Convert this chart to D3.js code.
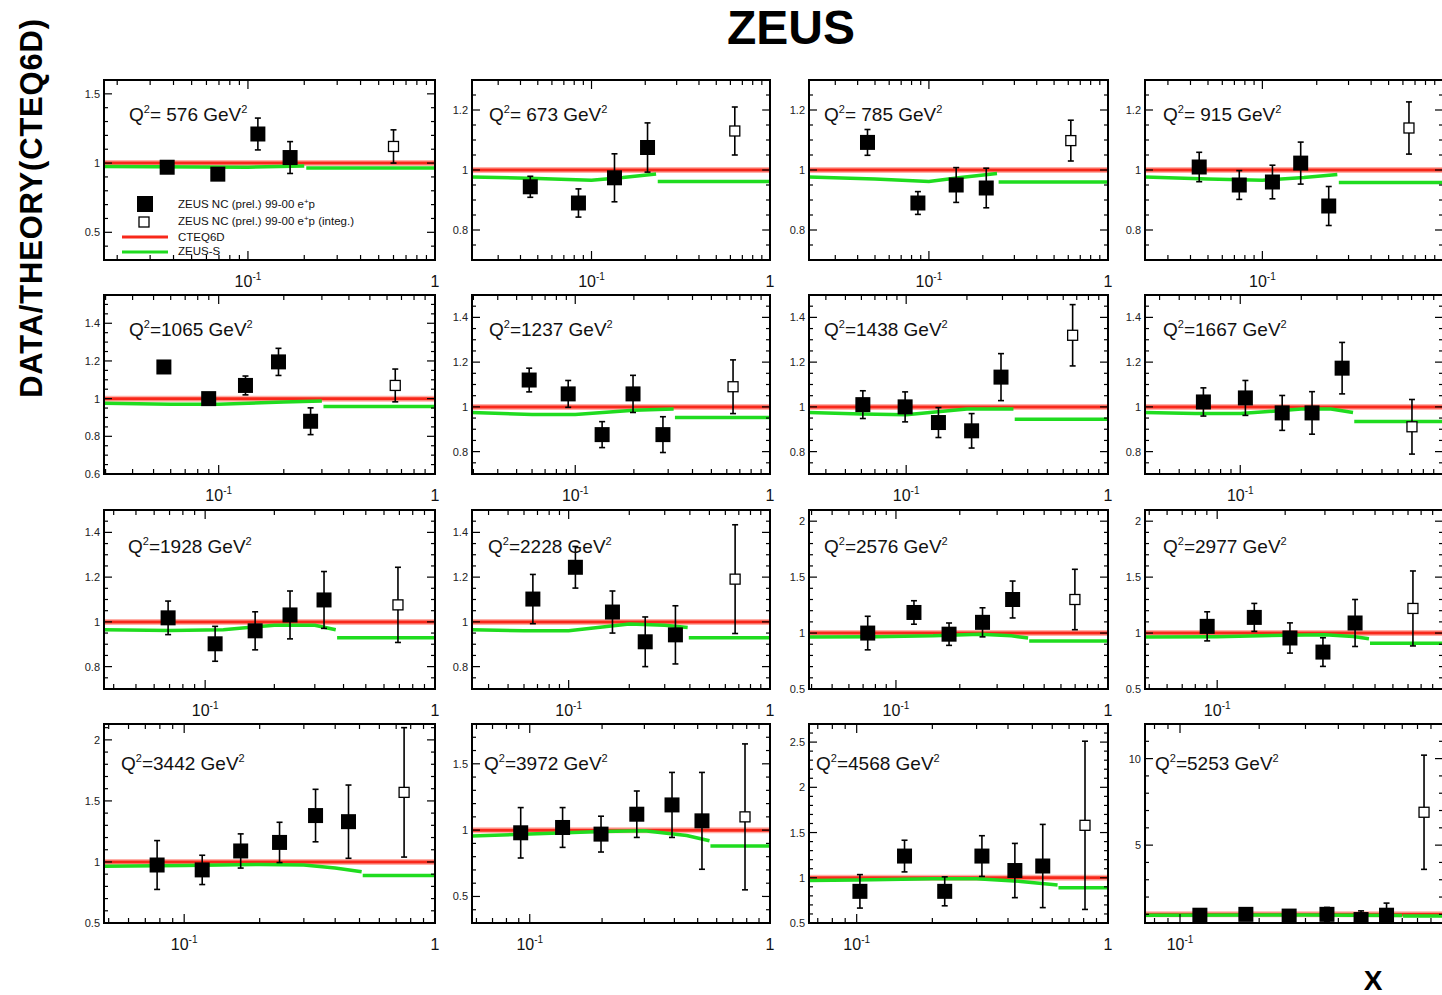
<!DOCTYPE html>
<html><head><meta charset="utf-8">
<script src="https://cdn.jsdelivr.net/npm/d3@7"></script>
<style>
body{margin:0;background:#fff}
svg{display:block}
text{font-family:"Liberation Sans",Arial,Helvetica,sans-serif}
</style>
</head><body>
<svg id="c" width="1442" height="995"></svg>
<script>
// ---------- data ----------
const q2Values = [576,673,785,915,1065,1237,1438,1667,1928,2228,2576,2977,3442,3972,4568,5253];
const xLow  = [0.017,0.0214,0.0214,0.0224,0.0295,0.0295,0.033,0.0339,0.0363,0.0331,0.0389,0.0479,0.0479,0.0575,0.0646,0.0736];
const xHigh = 1;
const yLow  = [0.3,0.7,0.7,0.7,0.6,0.7,0.7,0.7,0.7,0.7,0.5,0.5,0.5,0.3,0.5,0.5];
const yHigh = [1.6,1.3,1.3,1.3,1.55,1.5,1.5,1.5,1.5,1.5,2.1,2.1,2.13,1.8,2.7,12];
const yMajorStep = [0.5,0.2,0.2,0.2,0.2,0.2,0.2,0.2,0.2,0.2,0.5,0.5,0.5,0.5,0.5,5];
const yMinorStep = [0.1,0.05,0.05,0.05,0.05,0.05,0.05,0.05,0.05,0.05,0.1,0.1,0.1,0.1,0.1,1];
const xMajorTicks = [0.01,0.1,1];

const pointX = [
 [0.037,0.069,0.113,0.168],
 [0.0454,0.0845,0.1345,0.206],
 [0.0454,0.0868,0.142,0.209],
 [0.0447,0.0745,0.1137,0.163,0.233],
 [0.0558,0.0899,0.133,0.189,0.266],
 [0.058,0.092,0.1374,0.198,0.282],
 [0.061,0.0988,0.1445,0.211,0.295],
 [0.0658,0.106,0.161,0.226,0.318],
 [0.069,0.1105,0.165,0.234,0.329],
 [0.0664,0.108,0.165,0.24,0.339],
 [0.0736,0.1216,0.178,0.256,0.355],
 [0.0903,0.146,0.21,0.294,0.408],
 [0.078,0.118,0.168,0.24,0.334,0.452],
 [0.0917,0.137,0.198,0.279,0.391,0.521],
 [0.103,0.155,0.224,0.315,0.426,0.55],
 [0.119,0.178,0.26,0.362,0.488,0.61]
];
const pointY = [
 [0.97,0.92,1.21,1.04],
 [0.944,0.89,0.974,1.075],
 [1.092,0.89,0.95,0.94],
 [1.01,0.95,0.96,1.023,0.88],
 [1.168,1.0,1.07,1.195,0.88],
 [1.12,1.058,0.876,1.058,0.876],
 [1.01,1.0,0.93,0.893,1.133],
 [1.022,1.04,0.973,0.973,1.173],
 [1.018,0.902,0.96,1.031,1.098],
 [1.102,1.244,1.044,0.911,0.942],
 [1.0,1.184,0.99,1.096,1.3],
 [1.06,1.14,0.956,0.83,1.09],
 [0.975,0.935,1.09,1.16,1.38,1.33],
 [0.98,1.02,0.97,1.12,1.19,1.07],
 [0.85,1.24,0.85,1.24,1.08,1.13],
 [0.95,1.0,0.9,1.0,0.7,0.95]
];
const pointErr = [
 [0.02,0.02,0.115,0.115],
 [0.035,0.047,0.08,0.082],
 [0.043,0.038,0.058,0.066],
 [0.049,0.048,0.056,0.07,0.065],
 [0.025,0.025,0.05,0.072,0.071],
 [0.053,0.06,0.058,0.083,0.08],
 [0.062,0.067,0.067,0.077,0.105],
 [0.063,0.078,0.078,0.095,0.115],
 [0.075,0.078,0.085,0.107,0.127],
 [0.11,0.093,0.094,0.111,0.13],
 [0.15,0.105,0.1,0.13,0.165],
 [0.13,0.125,0.135,0.128,0.21],
 [0.2,0.12,0.14,0.165,0.215,0.3],
 [0.19,0.15,0.135,0.175,0.245,0.365],
 [0.185,0.175,0.16,0.225,0.3,0.46],
 [0.3,0.3,0.35,0.4,0.5,0.7]
];
const openX   = [0.6,0.635,0.62,0.648,0.655,0.646,0.668,0.703,0.69,0.671,0.698,0.736,0.753,0.787,0.81,0.847];
const openY   = [1.12,1.13,1.098,1.14,1.07,1.09,1.32,0.911,1.076,1.191,1.3,1.22,1.57,1.1,1.58,6.9];
const openErr = [0.12,0.08,0.068,0.087,0.087,0.12,0.137,0.122,0.168,0.243,0.27,0.335,0.53,0.55,0.93,3.3];

const cteqRatio = 1;   // CTEQ6D / CTEQ6D

// ZEUS-S / CTEQ6D : two pieces per panel (below and above the step)
const greenX1 = [
 [0.017,0.1,0.2],
 [0.0214,0.05,0.1,0.15,0.23],
 [0.0214,0.05,0.1,0.15,0.24],
 [0.0224,0.05,0.1,0.17,0.26],
 [0.0295,0.06,0.1,0.2,0.3],
 [0.0295,0.06,0.1,0.2,0.32],
 [0.033,0.06,0.1,0.2,0.34],
 [0.0339,0.06,0.1,0.2,0.28,0.36],
 [0.0363,0.07,0.12,0.2,0.3,0.37],
 [0.0331,0.06,0.1,0.2,0.3,0.39],
 [0.0389,0.08,0.15,0.25,0.35,0.42],
 [0.0479,0.1,0.2,0.3,0.4,0.47],
 [0.0479,0.1,0.2,0.3,0.4,0.51],
 [0.0575,0.1,0.2,0.3,0.45,0.56],
 [0.0646,0.1,0.2,0.3,0.45,0.63],
 [0.0736,0.3,0.7]
];
const greenY1 = [
 [0.975,0.97,0.978],
 [0.977,0.972,0.966,0.975,0.987],
 [0.977,0.97,0.962,0.975,0.988],
 [0.977,0.97,0.966,0.975,0.985],
 [0.975,0.97,0.97,0.982,0.988],
 [0.975,0.966,0.966,0.985,0.99],
 [0.975,0.968,0.965,0.99,0.99],
 [0.975,0.97,0.97,0.99,0.99,0.975],
 [0.965,0.962,0.965,0.985,0.985,0.965],
 [0.965,0.96,0.96,0.99,0.985,0.975],
 [0.965,0.968,0.975,0.99,0.975,0.955],
 [0.965,0.968,0.98,0.985,0.97,0.95],
 [0.965,0.97,0.98,0.975,0.95,0.92],
 [0.955,0.97,0.99,0.995,0.96,0.92],
 [0.97,0.975,0.99,0.99,0.96,0.92],
 [0.95,0.96,0.94]
];
const greenStepX = [0.205,0.235,0.245,0.265,0.305,0.325,0.345,0.365,0.375,0.395,0.425,0.475,0.515,0.565,0.635,0.705];
const greenTail  = [0.965,0.962,0.96,0.958,0.958,0.952,0.945,0.935,0.929,0.929,0.93,0.91,0.89,0.88,0.89,0.9];

const legendLabels = ["ZEUS NC (prel.) 99-00 e", "ZEUS NC (prel.) 99-00 e", "CTEQ6D", "ZEUS-S"];

// ---------- layout ----------
const colL = [104,472,809,1145], colR = [435,770,1108,1443];
const rowT = [80,295,510,724],  rowB = [260,474,689,923];
const labelDx = [[25,17,15,18],[25,17,15,18],[24,16,15,18],[17,12,7,10]];
const labelDy = [41,41,43,46];

const RED = "#f8281a", GREEN = "#1fdc1f";
const svg = d3.select("#c");
const fmt = v => String(+v.toFixed(2));

svg.append("text").attr("x",791).attr("y",44).attr("text-anchor","middle")
  .attr("font-size",48).attr("font-weight","bold").text("ZEUS");
svg.append("text").attr("transform","translate(42,208) rotate(-90)").attr("text-anchor","middle")
  .attr("font-size",31).attr("font-weight","bold").attr("letter-spacing",0.8).text("DATA/THEORY(CTEQ6D)");
svg.append("text").attr("x",1373).attr("y",990).attr("text-anchor","middle")
  .attr("font-size",28).attr("font-weight","bold").text("X");

q2Values.forEach((q2, i) => {
  const r = Math.floor(i/4), c = i%4;
  const L = colL[c], R = colR[c], T = rowT[r], B = rowB[r];
  const x = d3.scaleLog().domain([xLow[i], xHigh]).range([L, R]);
  const y = d3.scaleLinear().domain([yLow[i], yHigh[i]]).range([B, T]);
  const g = svg.append("g");
  const cid = "clip"+i;
  g.append("clipPath").attr("id",cid).append("rect").attr("x",L).attr("y",T).attr("width",R-L).attr("height",B-T);

  // theory lines
  const plot = g.append("g").attr("clip-path",`url(#${cid})`);
  const line = d3.line().x(d=>x(d[0])).y(d=>y(d[1]));
  plot.append("path").attr("d", line([[xLow[i],cteqRatio],[xHigh,cteqRatio]]))
    .attr("stroke","#ffb0a8").attr("stroke-width",6).attr("fill","none");
  plot.append("path").attr("d", line([[xLow[i],cteqRatio],[xHigh,cteqRatio]]))
    .attr("stroke",RED).attr("stroke-width",3).attr("fill","none");
  const gPts = greenX1[i].map((v,k)=>[v, greenY1[i][k]]);
  plot.append("path").attr("d", line(gPts)).attr("stroke",GREEN).attr("stroke-width",3.5).attr("fill","none");
  plot.append("path").attr("d", line([[greenStepX[i],greenTail[i]],[xHigh,greenTail[i]]]))
    .attr("stroke",GREEN).attr("stroke-width",3.5).attr("fill","none");

  // error bars
  const errBar = (px, py, e) => {
    const x0 = x(px);
    plot.append("line").attr("x1",x0).attr("x2",x0).attr("y1",y(py-e)).attr("y2",y(py+e))
      .attr("stroke","#000").attr("stroke-width",1.6);
    [py-e, py+e].forEach(v => plot.append("line").attr("x1",x0-3).attr("x2",x0+3)
      .attr("y1",y(v)).attr("y2",y(v)).attr("stroke","#000").attr("stroke-width",1.6));
  };
  pointX[i].forEach((px,k)=>errBar(px, pointY[i][k], pointErr[i][k]));
  errBar(openX[i], openY[i], openErr[i]);
  const ms = 15;
  pointX[i].forEach((px,k)=>{
    plot.append("rect").attr("x",x(px)-ms/2).attr("y",y(pointY[i][k])-ms/2)
      .attr("width",ms).attr("height",ms).attr("fill","#000");
  });
  const os = 10;
  plot.append("rect").attr("x",x(openX[i])-os/2).attr("y",y(openY[i])-os/2)
    .attr("width",os).attr("height",os).attr("fill","#fff").attr("stroke","#000").attr("stroke-width",1.3);

  // ticks
  const tk = g.append("g").attr("stroke","#000").attr("stroke-width",1.2);
  const xMinor = [];
  for (let e=-3; e<=0; e++) for (let m=1; m<=9; m++) {
    const v = m*Math.pow(10,e);
    if (v > xLow[i] && v < xHigh) xMinor.push({v, major: m===1});
  }
  xMinor.forEach(t => {
    const len = t.major ? 9 : 5;
    tk.append("line").attr("x1",x(t.v)).attr("x2",x(t.v)).attr("y1",B).attr("y2",B-len);
    tk.append("line").attr("x1",x(t.v)).attr("x2",x(t.v)).attr("y1",T).attr("y2",T+len);
  });
  const yStart = Math.ceil(yLow[i]/yMinorStep[i]-1e-6)*yMinorStep[i];
  for (let v=yStart; v<=yHigh[i]+1e-9; v+=yMinorStep[i]) {
    const isMaj = Math.abs(v/yMajorStep[i]-Math.round(v/yMajorStep[i]))<1e-6;
    const len = isMaj ? 8 : 4;
    tk.append("line").attr("x1",L).attr("x2",L+len).attr("y1",y(v)).attr("y2",y(v));
    tk.append("line").attr("x1",R).attr("x2",R-len).attr("y1",y(v)).attr("y2",y(v));
    if (isMaj && !(i===15 && v<1)) {
      g.append("text").attr("x",L-4).attr("y",y(v)+4).attr("text-anchor","end")
        .attr("font-size",11).attr("fill","#222").text(fmt(v));
    }
  }
  // x labels (those falling beyond the picture's right edge are not shown)
  xMajorTicks.filter(v=>v>=xLow[i] && v<=xHigh && x(v) < 1436).forEach(v=>{
    const t = g.append("text").attr("x",x(v)).attr("y",B+27).attr("text-anchor","middle")
      .attr("font-size",16).attr("fill","#111");
    if (v===1) t.text("1");
    else { t.append("tspan").text("10"); t.append("tspan").attr("dy",-7).attr("font-size",10).text(Math.round(Math.log10(v))); }
  });

  // frame
  g.append("rect").attr("x",L).attr("y",T).attr("width",R-L).attr("height",B-T)
    .attr("fill","none").attr("stroke","#000").attr("stroke-width",2);

  // Q2 label
  const lab = g.append("text").attr("x",L+labelDx[r][c]).attr("y",T+labelDy[r])
    .attr("font-size",19).attr("fill","#111");
  lab.append("tspan").text("Q");
  lab.append("tspan").attr("dy",-8).attr("font-size",11).text("2");
  lab.append("tspan").attr("dy",8).text(r===0 ? "= "+q2+" GeV" : "="+q2+" GeV");
  lab.append("tspan").attr("dy",-8).attr("font-size",11).text("2");
});

// legend (in first panel)
const lg = svg.append("g");
lg.append("rect").attr("x",137).attr("y",196).attr("width",16).attr("height",16).attr("fill","#000");
lg.append("rect").attr("x",139).attr("y",217).attr("width",10).attr("height",10).attr("fill","#fff").attr("stroke","#000").attr("stroke-width",1.3);
lg.append("line").attr("x1",122).attr("x2",168).attr("y1",237).attr("y2",237).attr("stroke",RED).attr("stroke-width",3);
lg.append("line").attr("x1",122).attr("x2",168).attr("y1",252).attr("y2",252).attr("stroke",GREEN).attr("stroke-width",3);
const legY = [208,225,241,255];
legendLabels.forEach((s,k)=>{
  const t = lg.append("text").attr("x",178).attr("y",legY[k]).attr("font-size",11.5).attr("fill","#111");
  t.append("tspan").text(s);
  if (k<2) {
    t.append("tspan").attr("dy",-4).attr("font-size",8).text("+");
    t.append("tspan").attr("dy",4).text(k===0 ? "p" : "p (integ.)");
  }
});
</script>
</body></html>
